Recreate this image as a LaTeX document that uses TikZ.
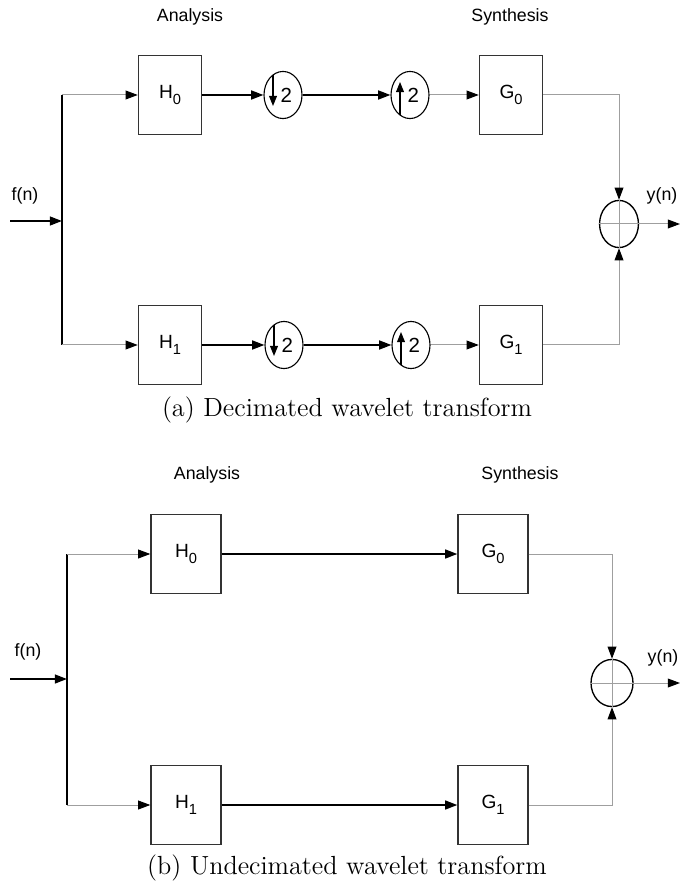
\documentclass[tikz,border=0pt]{standalone}
\usepackage{fontspec}
\newfontfamily\arialfont{Liberation Sans}
\usetikzlibrary{arrows.meta,positioning,calc,shapes.geometric}

\newcommand{\lowsub}[1]{\raisebox{-2.6pt}{\fontsize{6.6}{7}\selectfont #1}}

\begin{document}
\begin{tikzpicture}[
    x=0.45pt, y=-0.45pt,
    every node/.style={font=\arialfont\fontsize{8}{9}\selectfont},
    filt/.style={draw=black!80, line width=0.6pt, inner sep=0pt,
        minimum width=#1, minimum height=35.5pt, font=\arialfont\fontsize{8.6}{9}\selectfont},
    samp/.style={draw, ellipse, line width=0.5pt, inner sep=0pt,
        minimum width=17.1pt, minimum height=21.2pt, font=\arialfont\fontsize{9.2}{10}\selectfont},
    adder/.style={draw, ellipse, line width=0.6pt, inner sep=0pt,
        minimum width=#1, minimum height=21.2pt},
    sig/.style={-{Triangle[length=5.5pt,width=4pt]}, line width=0.85pt},
    wire/.style={gray!75, line width=0.45pt},
    thinsig/.style={wire, -{Triangle[length=5.5pt,width=4pt,black]}},
    bus/.style={line width=0.6pt},
    inarrow/.style={-{Triangle[length=4.6pt,width=3.6pt]}, line width=0.5pt},
    caption/.style={font=\rmfamily\fontsize{11.8}{14}\selectfont}
]
\useasboundingbox (0,0) rectangle (685,888);

% (a) decimated transform
\node (anaA) at (190,17) {Analysis};
\node (synA) at (510,17) {Synthesis};

\node[filt=28.4pt] (h0a) at (170,95) {H\lowsub{0}};
\node[filt=28.4pt] (h1a) at (170,345) {H\lowsub{1}};
\node[filt=28.4pt] (g0a) at (511,95) {G\lowsub{0}};
\node[filt=28.4pt] (g1a) at (511,345) {G\lowsub{1}};

\node[samp] (dn0) at (283,95) {\hspace{3pt}2};
\node[samp] (up0) at (410,95) {\hspace{3pt}2};
\node[samp] (dn1) at (284,345) {\hspace{3pt}2};
\node[samp] (up1) at (411,345) {\hspace{3pt}2};

\node[adder=17.5pt] (suma) at (619,224) {};

\coordinate (ina) at (10,221);
\coordinate (spa) at (62,221);
\coordinate (outa) at (680,224);
\node (fa) at (25,196) {f(n)};
\node (ya) at (662,196) {y(n)};

\draw[sig] (ina) -- (spa);
\draw[bus] (h0a -| spa) -- (h1a -| spa);
\draw[thinsig] (h0a -| spa) -- (h0a);
\draw[thinsig] (h1a -| spa) -- (h1a);

\draw[sig] (h0a) -- (dn0);
\draw[sig] (dn0) -- (up0);
\draw[thinsig] (up0) -- (g0a);
\draw[sig] (h1a) -- (dn1);
\draw[sig] (dn1) -- (up1);
\draw[thinsig] (up1) -- (g1a);

\draw[inarrow] ($(dn0)+(-10,-20)$) -- ($(dn0)+(-10,11)$);
\draw[inarrow] ($(up0)+(-10,20)$) -- ($(up0)+(-10,-13)$);
\draw[inarrow] ($(dn1)+(-10,-20)$) -- ($(dn1)+(-10,11)$);
\draw[inarrow] ($(up1)+(-10,20)$) -- ($(up1)+(-10,-13)$);

\draw[thinsig] (g0a) -| (suma);
\draw[thinsig] (g1a) -| (suma);
\draw[wire] (suma.north) -- (suma.south);
\draw[wire] (suma.west) -- (suma.east);
\draw[thinsig] (suma) -- (outa);

\node[caption] (capa) at (347,410) {(a) Decimated wavelet transform};

% (b) undecimated transform
\node (anaB) at (207,475) {Analysis};
\node (synB) at (520,475) {Synthesis};

\node[filt=31.5pt] (h0b) at (186,554) {H\lowsub{0}};
\node[filt=31.5pt] (h1b) at (186,805) {H\lowsub{1}};
\node[filt=31.5pt] (g0b) at (493,554) {G\lowsub{0}};
\node[filt=31.5pt] (g1b) at (493,805) {G\lowsub{1}};

\node[adder=18.9pt] (sumb) at (612,683) {};

\coordinate (inb) at (10,679);
\coordinate (spb) at (67,679);
\coordinate (outb) at (680,683);
\node (fb) at (28,652) {f(n)};
\node (yb) at (663,658) {y(n)};

\draw[sig] (inb) -- (spb);
\draw[bus] (h0b -| spb) -- (h1b -| spb);
\draw[thinsig] (h0b -| spb) -- (h0b);
\draw[thinsig] (h1b -| spb) -- (h1b);

\draw[sig] (h0b) -- (g0b);
\draw[sig] (h1b) -- (g1b);

\draw[thinsig] (g0b) -| (sumb);
\draw[thinsig] (g1b) -| (sumb);
\draw[wire] (sumb.north) -- (sumb.south);
\draw[wire] (sumb.west) -- (sumb.east);
\draw[thinsig] (sumb) -- (outb);

\node[caption] (capb) at (347,868) {(b) Undecimated wavelet transform};

\end{tikzpicture}
\end{document}
